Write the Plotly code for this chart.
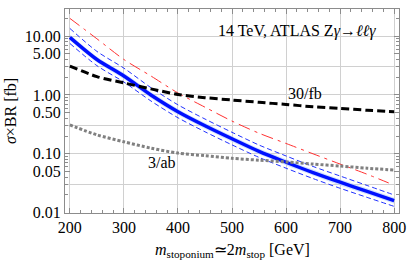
import plotly.graph_objects as go

# Data
mass = [200, 250, 300, 350, 400, 450, 500, 550, 600, 650, 700, 750, 800]
blue_central = [9.5, 4.0, 2.1, 1.0, 0.52, 0.30, 0.18, 0.11, 0.072, 0.048, 0.033, 0.023, 0.016]
blue_band_hi = [10.6, 4.45, 2.35, 1.12, 0.58, 0.336, 0.2, 0.123, 0.081, 0.054, 0.037, 0.026, 0.018]
blue_band_lo = [8.5, 3.6, 1.87, 0.89, 0.46, 0.267, 0.16, 0.098, 0.064, 0.043, 0.029, 0.0205, 0.0142]
blue_scale_hi = [13.5, 5.5, 2.85, 1.33, 0.68, 0.39, 0.232, 0.141, 0.092, 0.061, 0.042, 0.029, 0.020]
blue_scale_lo = [7.5, 3.15, 1.66, 0.79, 0.41, 0.237, 0.142, 0.087, 0.057, 0.038, 0.026, 0.0182, 0.0128]
red_mass = [200, 250, 300, 350, 400, 450, 500, 550, 600, 650, 700, 750, 790]
red_vals = [20, 9.0, 4.0, 2.1, 1.08, 0.62, 0.36, 0.224, 0.15, 0.10, 0.067, 0.045, 0.032]
limit_30fb = [3.1, 2.05, 1.6, 1.27, 1.02, 0.9, 0.82, 0.75, 0.69, 0.63, 0.59, 0.55, 0.52]
limit_3ab = [0.31, 0.21, 0.16, 0.125, 0.103, 0.093, 0.084, 0.078, 0.073, 0.067, 0.062, 0.057, 0.053]

x_ticks = [200, 300, 400, 500, 600, 700, 800]
x_minor = [v for v in range(200, 801, 20) if v % 100 != 0]
y_ticks = [0.01, 0.05, 0.1, 0.5, 1, 5, 10]
y_ticklabels = ["0.01", "0.05", "0.10", "0.50", "1.00", "5.00", "10.00"]
y_grid = [0.03, 0.1, 0.3, 1, 3, 10, 30]
y_minor = [m * 10 ** e for e in (-2, -1, 0, 1) for m in range(2, 10)]

FONT = "Times New Roman, Liberation Serif, serif"
frame = "#8c8c8c"
grid = "#d0d0d0"

fig = go.Figure()

def smooth():
    return dict(shape="spline", smoothing=0.8)

# light blue band
fig.add_trace(go.Scatter(x=mass, y=blue_band_hi, mode="lines", line=dict(width=0, **smooth()),
                         showlegend=False, hoverinfo="skip"))
fig.add_trace(go.Scatter(x=mass, y=blue_band_lo, mode="lines", line=dict(width=0, **smooth()),
                         fill="tonexty", fillcolor="rgba(180,205,255,0.6)",
                         showlegend=False, hoverinfo="skip"))
# blue dashed scale variations
for arr in (blue_scale_hi, blue_scale_lo):
    fig.add_trace(go.Scatter(x=mass, y=arr, mode="lines",
                             line=dict(color="#2233ff", width=1, dash="5px,3px", **smooth()),
                             showlegend=False))
# red dot-dashed
fig.add_trace(go.Scatter(x=red_mass, y=red_vals, mode="lines",
                         line=dict(color="#ff3030", width=1, dash="12px,5px,3px,5px", **smooth()),
                         showlegend=False))
# blue central
fig.add_trace(go.Scatter(x=mass, y=blue_central, mode="lines",
                         line=dict(color="#0010ff", width=3.4, **smooth()), showlegend=False))
# limits
fig.add_trace(go.Scatter(x=mass, y=limit_30fb, mode="lines",
                         line=dict(color="black", width=3, dash="8px,4px", **smooth()),
                         showlegend=False))
fig.add_trace(go.Scatter(x=mass, y=limit_3ab, mode="lines",
                         line=dict(color="#808080", width=3, dash="3px,2px", **smooth()),
                         showlegend=False))

fig.update_layout(
    width=407, height=262,
    margin=dict(l=65, r=8, t=9, b=49),
    paper_bgcolor="white", plot_bgcolor="white",
    font=dict(family=FONT, size=16, color="black"),
    xaxis=dict(range=[191, 809], tickvals=x_ticks, ticks="inside", ticklen=5,
               tickcolor=frame, showline=True, linecolor=frame, linewidth=1,
               mirror="ticks", showgrid=True, gridcolor=grid, gridwidth=1,
               zeroline=False, automargin=False,
               minor=dict(tickvals=x_minor, ticks="inside", ticklen=3, tickcolor=frame,
                          showgrid=False),
               tickfont=dict(family=FONT, size=16)),
    yaxis=dict(type="log", range=[-2.005, 1.46], tickvals=y_grid, showticklabels=False,
               ticks="", showgrid=True, gridcolor=grid, gridwidth=1, zeroline=False,
               showline=False, automargin=False),
    yaxis2=dict(type="log", range=[-2.005, 1.46], overlaying="y", side="left",
                tickvals=y_ticks, ticktext=y_ticklabels, ticks="inside", ticklen=5,
                tickcolor=frame, showline=True, linecolor=frame, linewidth=1,
                mirror="ticks", showgrid=False, zeroline=False, automargin=False,
                minor=dict(tickvals=y_minor, ticks="inside", ticklen=3, tickcolor=frame,
                           showgrid=False),
                tickfont=dict(family=FONT, size=16),
                title=dict(text="<i>σ</i>×BR [fb]", font=dict(family=FONT, size=16),
                           standoff=4)),
    annotations=[
        dict(x=0.5, y=0, xref="paper", yref="paper",
             text="<i>m</i><sub>stoponium</sub>≃2<i>m</i><sub>stop</sub> [GeV]",
             showarrow=False, xanchor="center", yanchor="top", yshift=-26,
             font=dict(family=FONT, size=16)),
        dict(x=770, y=1.087, xref="x", yref="y", text="14 TeV, ATLAS Z<i>γ</i>→<i>ℓℓγ</i>",
             showarrow=False, xanchor="right", yanchor="middle",
             font=dict(family=FONT, size=16)),
        dict(x=635, y=0.019, xref="x", yref="y", text="30/fb", showarrow=False,
             xanchor="center", yanchor="middle", font=dict(family=FONT, size=16)),
        dict(x=370, y=-1.15, xref="x", yref="y", text="3/ab", showarrow=False,
             xanchor="center", yanchor="middle", font=dict(family=FONT, size=16)),
    ],
)
# dummy trace so yaxis2 is active
fig.add_trace(go.Scatter(x=[None], y=[None], yaxis="y2", showlegend=False))

fig.write_html("out.html", config={"displayModeBar": False},
               post_script="document.body.style.margin='0';document.body.style.padding='0';")
